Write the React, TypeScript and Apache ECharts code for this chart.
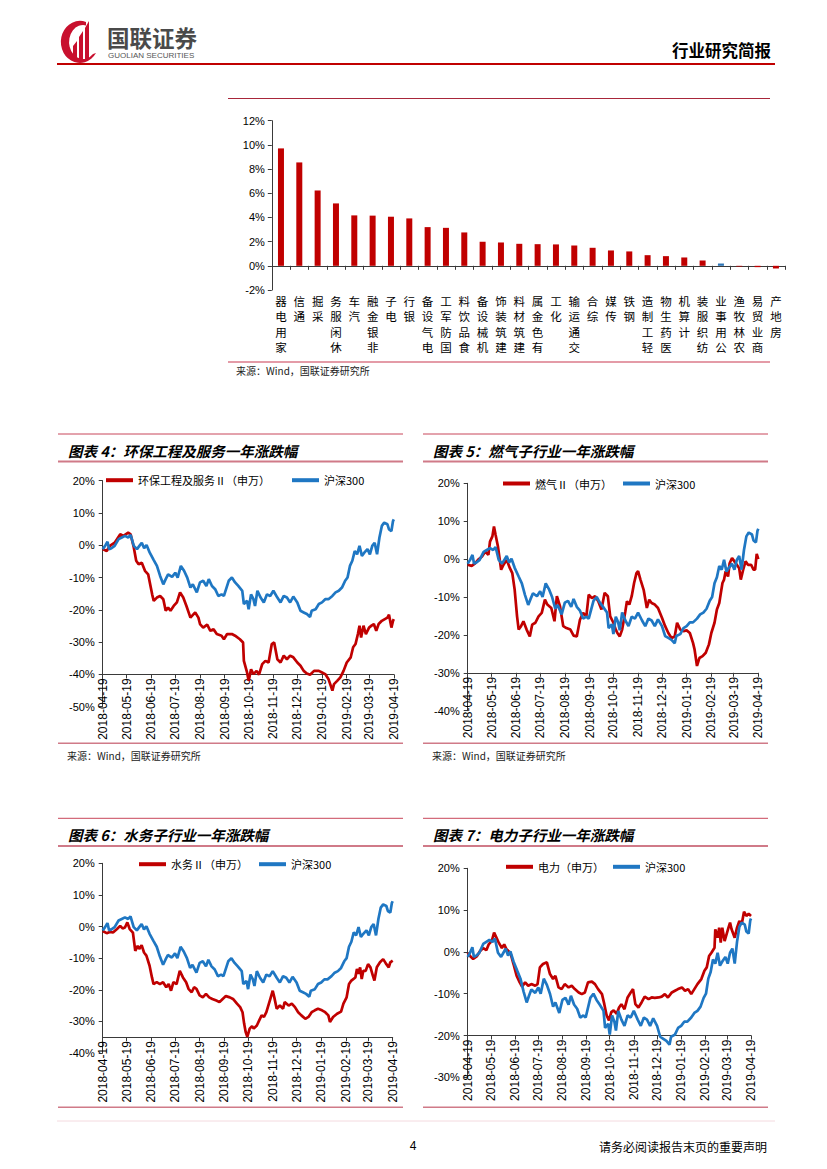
import React, { useEffect, useRef } from 'react';
import * as echarts from 'echarts';

const CJK = '"Noto Sans CJK SC", "Noto Sans", sans-serif';
const ARIAL = '"Liberation Sans", Arial, sans-serif';
const RED = '#C00000';
const BLUE = '#1F77C3';
const BAR_BLUE = '#2E75B6';

// ---------- top bar chart: industry returns (%) ----------
const industryCategories = [
  '家用电器', '通信', '采掘', '休闲服务', '汽车', '非银金融', '电子', '银行', '电气设备', '国防军工',
  '食品饮料', '机械设备', '建筑装饰', '建筑材料', '有色金属', '化工', '交通运输', '综合', '传媒', '钢铁',
  '轻工制造', '医药生物', '计算机', '纺织服装', '公用事业', '农林牧渔', '商业贸易', '房地产',
];
const industryReturns = [
  9.71, 8.55, 6.23, 5.16, 4.17, 4.15, 4.06, 3.92, 3.2, 3.14,
  2.76, 1.99, 1.93, 1.82, 1.79, 1.77, 1.68, 1.49, 1.27, 1.19,
  0.88, 0.8, 0.69, 0.44, 0.19, -0.06, -0.11, -0.22,
];
const highlightCategory = '公用事业';

// ---------- one-year return series: [days since 2018-04-19, return %] ----------
const hs300: [number, number][] = [
  [0, -1.2], [3, -0.2], [6, 1.1], [8, -1.2], [11, -0.9], [15, -0.2], [20, 1.9], [24, 2.4], [28, 2.9], [32, 2.4],
  [35, 3.2], [39, -0.2], [43, -1.2], [46, -0.2], [49, 0.8], [52, -0.9], [55, 0.1], [59, -2.3], [64, -4.6], [68, -6.4],
  [72, -9.5], [76, -12.1], [79, -10.5], [82, -9], [87, -9.8], [91, -8.5], [94, -10], [98, -6.4], [102, -7.9], [106, -10],
  [110, -13.1], [113, -12.1], [118, -14.6], [122, -11.5], [126, -11], [130, -12.6], [133, -10.5], [137, -12.6], [141, -13.6], [145, -15.7],
  [149, -15.2], [152, -15.7], [158, -11], [162, -10], [166, -11.5], [170, -12.6], [175, -14.1], [177, -18.2], [181, -17.2], [183, -19.8],
  [186, -15.2], [189, -16.7], [191, -18.8], [194, -14.1], [198, -16.2], [202, -17.7], [206, -15.2], [210, -15.7], [214, -14.1], [219, -16.2],
  [223, -17.7], [227, -15.7], [231, -16.2], [235, -17.7], [239, -15.9], [244, -17.7], [248, -20.3], [252, -20.8], [256, -21.3], [260, -22.2],
  [262, -20.3], [267, -19.8], [271, -18.2], [275, -17.7], [279, -16.7], [283, -16.7], [288, -15.7], [292, -14.6], [296, -14.1], [300, -13.1],
  [304, -11], [307, -10], [310, -6.4], [313, -4.8], [316, -1.8], [319, -2.8], [322, -0.2], [325, -3.3], [328, -2.3], [332, -1.2],
  [335, -2.8], [338, -0.2], [341, 0.8], [344, -2.8], [347, 2.4], [350, 6.0], [353, 7.0], [357, 6.5], [359, 4.9], [362, 4.4],
  [364, 7.5], [365, 8.0],
];

const envProtection: [number, number][] = [
  [0, -1.2], [5, -1.8], [9, -0.2], [15, 0.8], [22, 3.4], [26, 2.9], [32, 3.9], [35, 3.4], [39, -0.7], [42, -4.8],
  [45, -5.9], [49, -5.4], [53, -7.9], [57, -9], [62, -15.2], [64, -17.2], [68, -16.2], [72, -15.7], [76, -16.7], [79, -20.3],
  [82, -19.3], [85, -20.3], [89, -18.8], [93, -17.7], [97, -14.6], [101, -16.2], [105, -18.8], [110, -22.4], [116, -20.8], [120, -22.4],
  [122, -24.4], [126, -25.5], [131, -24.6], [135, -26.5], [139, -26], [143, -27.5], [149, -28], [152, -29.1], [156, -27.5], [162, -27.5],
  [166, -28], [172, -29.1], [176, -30.1], [177, -35.8], [181, -39.4], [183, -42], [186, -38.4], [189, -39.9], [193, -38.9], [196, -40.1],
  [200, -36.8], [204, -35.8], [208, -36.3], [212, -30.6], [215, -30.1], [219, -35.3], [223, -36.3], [227, -34.2], [231, -35.3], [235, -34.2],
  [239, -34.7], [244, -36.3], [248, -37.3], [252, -38.9], [256, -39.7], [260, -40.1], [265, -38.9], [271, -38.9], [275, -39.4], [279, -39.9],
  [283, -41.4], [288, -45], [290, -43], [294, -42], [298, -40.9], [302, -38.9], [306, -36.3], [311, -34.7], [314, -31.6], [317, -30.6],
  [320, -27.5], [322, -24.9], [324, -28.6], [327, -24.9], [330, -27.5], [334, -25.5], [337, -24.9], [340, -24.4], [343, -26.5], [346, -24.4],
  [350, -23.4], [357, -22.4], [359, -21.5], [362, -25.5], [364, -23.4], [365, -22.9],
];

const gas: [number, number][] = [
  [0, -1.5], [5, -1.8], [9, -1.2], [13, -0.2], [18, 0.7], [22, 2.0], [26, 1.1], [28, 4.6], [31, 6.0], [33, 8.6],
  [35, 6.4], [38, 3.3], [42, -2.8], [45, -1.5], [49, -0.2], [53, -2.4], [56, -3.7], [59, -8.1], [62, -15.1], [64, -18.6],
  [67, -17.7], [70, -16.4], [74, -18.6], [78, -20.4], [81, -17.3], [85, -16.8], [89, -15.1], [93, -14.2], [97, -10.7], [100, -12],
  [105, -12.9], [109, -16.4], [112, -9.8], [116, -12.5], [120, -17.7], [124, -18.2], [129, -18.6], [133, -20.2], [137, -20.4], [141, -16],
  [145, -14.2], [149, -15.1], [152, -9.4], [156, -10.3], [160, -9.8], [164, -11.1], [168, -13.3], [172, -8.9], [176, -9.8], [179, -15.1],
  [183, -16.8], [186, -18.6], [188, -19.5], [191, -20.4], [194, -18.6], [198, -13.8], [200, -11.1], [203, -12], [206, -9.8], [209, -6.3],
  [212, -3.7], [214, -3.2], [217, -5.4], [221, -8.1], [225, -12.9], [228, -10.7], [231, -11.6], [235, -12], [239, -12.9], [244, -15.5],
  [248, -17.7], [252, -19.5], [256, -20.8], [260, -20.4], [263, -16.8], [267, -18.6], [271, -19], [275, -18.8], [279, -19.5], [283, -22.1],
  [285, -23.9], [288, -28.2], [291, -26.1], [295, -25.6], [299, -24.7], [303, -22.5], [306, -19.5], [310, -16.8], [313, -13.3], [316, -11.6],
  [318, -8.9], [320, -6.3], [322, -5.4], [324, -3.2], [327, -4.6], [329, -1.1], [332, 0.3], [335, -0.6], [338, -1.5], [341, -2.4],
  [343, -5.4], [346, -2.8], [349, -0.6], [352, -1.5], [356, -1.5], [359, -2.8], [361, -2.8], [363, 1.4], [365, 0],
];

const water: [number, number][] = [
  [0, -1.4], [5, -2.1], [9, -1.7], [13, -1.9], [18, -0.8], [22, 0.2], [25, -0.6], [28, -0.3], [31, 1.3], [34, -0.8],
  [38, -1.9], [41, -7.7], [44, -6.1], [46, -7.1], [49, -5.9], [52, -8.2], [55, -9.2], [59, -12.4], [62, -16.1], [64, -18.2],
  [68, -17.6], [72, -18.2], [76, -17.6], [80, -19.2], [83, -18.2], [86, -20.3], [89, -17.6], [93, -18.2], [97, -14], [101, -16.1],
  [105, -17.6], [108, -19.7], [112, -20.8], [115, -19.2], [118, -19.7], [122, -21.8], [126, -22.4], [130, -21.3], [134, -22.4], [138, -22.9],
  [143, -23.4], [147, -23.9], [151, -22.9], [155, -22], [160, -22.4], [164, -22.9], [169, -24.4], [173, -25.5], [176, -27.1], [178, -30.7],
  [180, -33.4], [182, -34.9], [185, -32.3], [188, -31.5], [190, -32.3], [194, -31.3], [197, -29.7], [200, -28.1], [203, -28.6], [206, -27.1],
  [211, -22.9], [214, -20.3], [216, -22.4], [219, -26], [223, -25], [227, -26], [229, -23.9], [234, -25], [238, -24.4], [242, -25.5],
  [246, -27.1], [250, -28.1], [255, -29.2], [259, -28.6], [263, -27.1], [267, -26.5], [271, -26], [276, -26.5], [280, -27.1], [284, -28.1],
  [286, -30.2], [290, -28.6], [295, -27.6], [300, -26.9], [303, -24.4], [307, -22.4], [310, -18.2], [313, -17.1], [318, -16.1], [320, -13.4],
  [322, -15], [324, -12.9], [326, -16.6], [328, -14], [331, -14], [334, -11.9], [337, -12.9], [340, -15.5], [342, -17.1], [345, -12.9],
  [349, -11.3], [353, -10.3], [355, -11.1], [357, -11.9], [360, -12.9], [362, -11.3], [365, -10.8],
];

const power: [number, number][] = [
  [0, -0.2], [3, -1], [7, -1.7], [12, -1], [16, 0.2], [20, 0.9], [24, 0.4], [27, 1.8], [31, 2.6], [34, 4.6],
  [37, 3.4], [40, 2.2], [44, 0.9], [47, 1.8], [50, 0.6], [55, -0.2], [59, -2.9], [63, -5.7], [67, -7.3], [70, -8.3],
  [74, -7.3], [78, -8.1], [82, -7.7], [87, -8.1], [90, -7.7], [93, -3.7], [97, -2.9], [102, -2.5], [106, -5.3], [110, -6.5],
  [113, -5.7], [117, -8.5], [121, -8.9], [125, -7.7], [130, -8.5], [134, -8.1], [138, -8.9], [143, -9.7], [147, -10.1], [151, -9.7],
  [155, -7.3], [160, -7.1], [164, -7.7], [168, -8.9], [173, -10.1], [176, -12.5], [179, -15.2], [182, -16.4], [185, -14.4], [188, -14],
  [192, -14.8], [195, -13.3], [198, -12.5], [202, -13.7], [206, -10.9], [210, -9.7], [213, -8.9], [216, -12.5], [220, -13.3], [224, -12.1],
  [228, -10.7], [233, -11.3], [237, -10.9], [241, -11], [246, -10.9], [250, -10.7], [254, -10.1], [258, -10.9], [263, -9.7], [267, -9.3],
  [271, -8.9], [276, -8.5], [280, -9.3], [284, -8.9], [288, -10.1], [292, -8.9], [296, -7.7], [301, -6.5], [305, -4.5], [308, -3.7],
  [311, -1], [314, -0.2], [318, 1], [319, 5.4], [322, 3.4], [324, 5.8], [326, 2.2], [328, 5.8], [331, 2.6], [336, 5.8],
  [338, 7], [340, 5.4], [344, 3.4], [347, 5.8], [350, 7.4], [353, 6.6], [356, 9.6], [359, 8.6], [362, 9.1], [365, 8.6],
];

// ---------- date helpers ----------
const START = Date.UTC(2018, 3, 19);
const DAY = 86400000;
const monthTickDays = Array.from({ length: 13 }, (_, m) =>
  Math.round((Date.UTC(2018, 3 + m, 19) - START) / DAY)
);
const pad = (n: number) => String(n).padStart(2, '0');
const dayLabel = (v: number) => {
  const d = new Date(START + Math.round(v) * DAY);
  return `${d.getUTCFullYear()}-${pad(d.getUTCMonth() + 1)}-${pad(d.getUTCDate())}`;
};

// ---------- logo shapes ----------
const LOGO_RING = 'M26 2 A19 21 0 1 0 36 33 L33 34 A14 17 0 1 1 26 5.4 Z';
const LOGO_BARS =
  'M13 40 L13 26 L17 21 L17 40 Z M19 40 L19 17 L23 11 L23 40 Z M25 40 L25 8 L29 1 L29 40 Z';
echarts.graphic.registerShape('glRing', echarts.graphic.extendPath(LOGO_RING, {}) as any);
echarts.graphic.registerShape('glBars', echarts.graphic.extendPath(LOGO_BARS, {}) as any);

// ---------- panel layout ----------
const panels = [
  {
    title: '图表 4：环保工程及服务一年涨跌幅', name: '环保工程及服务Ⅱ（申万）', data: envProtection,
    yMin: -50, yMax: 20, cross: -40,
    grid: { left: 102.7, top: 480.7, width: 291.1, height: 226 },
    legendLeft: 106, legendY: 481.7, legendGap: 22,
    boxX: 58, boxTop: 434, boxMid: 461.5, boxBottom: 743.3, source: true,
  },
  {
    title: '图表 5：燃气子行业一年涨跌幅', name: '燃气Ⅱ（申万）', data: gas,
    yMin: -40, yMax: 20, cross: -30,
    grid: { left: 467.7, top: 483.3, width: 290.6, height: 227.4 },
    legendLeft: 503, legendY: 485, legendGap: 11,
    boxX: 423, boxTop: 434, boxMid: 461.5, boxBottom: 743.3, source: true,
  },
  {
    title: '图表 6：水务子行业一年涨跌幅', name: '水务Ⅱ（申万）', data: water,
    yMin: -40, yMax: 20, cross: -35,
    grid: { left: 102.7, top: 863.3, width: 290, height: 189.7 },
    legendLeft: 139, legendY: 865.7, legendGap: 11,
    boxX: 58, boxTop: 818.3, boxMid: 846, boxBottom: 1107.3, source: false,
  },
  {
    title: '图表 7：电力子行业一年涨跌幅', name: '电力（申万）', data: power,
    yMin: -30, yMax: 20, cross: -20,
    grid: { left: 467.7, top: 868.3, width: 283.3, height: 209 },
    legendLeft: 506, legendY: 868.3, legendGap: 9,
    boxX: 423, boxTop: 818.3, boxMid: 846, boxBottom: 1107.3, source: false,
  },
];

const AXIS_COLOR = '#3a3a3a';
const SOURCE_TEXT = '来源：Wind，国联证券研究所';

function txt(text: string, x: number, y: number, opts: any = {}) {
  const align = opts.align || 'left';
  const vAlign = opts.vAlign || 'middle';
  return {
    type: 'text',
    x,
    y,
    silent: true,
    style: {
      text,
      fill: opts.fill || '#000',
      fontSize: opts.size || 12,
      fontFamily: opts.family || CJK,
      fontWeight: opts.weight || 'normal',
      fontStyle: opts.italic ? 'italic' : 'normal',
      textAlign: align,
      align,
      textVerticalAlign: vAlign,
      verticalAlign: vAlign,
    },
  };
}
function hline(x1: number, x2: number, y: number, stroke: string, lineWidth: number) {
  return { type: 'line', silent: true, shape: { x1, y1: y, x2, y2: y }, style: { stroke, lineWidth } };
}

function buildOption() {
  const grids: any[] = [
    { left: 271.8, top: 120.7, width: 513.3, height: 169.3, containLabel: false, outerBoundsMode: 'none' },
    ...panels.map((p) => ({ ...p.grid, containLabel: false, outerBoundsMode: 'none' })),
  ];

  const xAxes: any[] = [
    {
      gridIndex: 0, type: 'category', data: industryCategories, position: 'bottom',
      axisLine: { show: false, onZero: false }, axisTick: { show: false }, splitLine: { show: false },
      axisLabel: {
        interval: 0, margin: 3, color: '#000', fontFamily: CJK, fontSize: 11.5, lineHeight: 15.5,
        formatter: (v: string) => v.split('').reverse().join('\n'),
      },
    },
    {
      gridIndex: 0, type: 'category', data: industryCategories, position: 'bottom',
      axisLine: { show: true, onZero: true, onZeroAxisIndex: 0, lineStyle: { color: AXIS_COLOR, width: 1 } },
      axisTick: { show: true, length: 4, interval: 0, lineStyle: { color: AXIS_COLOR } },
      axisLabel: { show: false }, splitLine: { show: false },
    },
    ...panels.map((p, i) => ({
      gridIndex: i + 1, type: 'value', min: 0, max: 365, position: 'bottom',
      offset: -((p.cross - p.yMin) / (p.yMax - p.yMin)) * p.grid.height,
      axisLine: { show: true, onZero: false, lineStyle: { color: AXIS_COLOR, width: 1 } },
      axisTick: { show: true, length: 4, customValues: monthTickDays, lineStyle: { color: AXIS_COLOR } },
      axisLabel: {
        customValues: monthTickDays, formatter: dayLabel, rotate: 90, margin: 4,
        fontSize: 12, fontFamily: ARIAL, color: '#000',
      },
      splitLine: { show: false },
    })),
  ];

  const yAxes: any[] = [
    {
      gridIndex: 0, type: 'value', min: -2, max: 12, interval: 2,
      axisLine: { show: true, onZero: false, lineStyle: { color: AXIS_COLOR } },
      axisTick: { show: true, length: 4, lineStyle: { color: AXIS_COLOR } },
      axisLabel: { formatter: (v: number) => `${v}%`, fontSize: 11, fontFamily: ARIAL, color: '#000', margin: 7 },
      splitLine: { show: false },
    },
    ...panels.map((p, i) => ({
      gridIndex: i + 1, type: 'value', min: p.yMin, max: p.yMax, interval: 10,
      axisLine: { show: true, onZero: false, lineStyle: { color: AXIS_COLOR } },
      axisTick: { show: true, length: 4, lineStyle: { color: AXIS_COLOR } },
      axisLabel: { formatter: (v: number) => `${v}%`, fontSize: 11, fontFamily: ARIAL, color: '#000', margin: 8 },
      splitLine: { show: false },
    })),
  ];

  const series: any[] = [
    {
      type: 'bar', xAxisIndex: 0, yAxisIndex: 0, barWidth: 6, silent: true,
      data: industryReturns.map((v, i) => ({
        value: v,
        itemStyle: { color: industryCategories[i] === highlightCategory ? BAR_BLUE : RED },
      })),
    },
  ];
  panels.forEach((p, i) => {
    series.push({
      type: 'line', name: p.name, xAxisIndex: i + 2, yAxisIndex: i + 1, data: p.data,
      showSymbol: false, symbol: 'none', silent: true,
      lineStyle: { width: 2.7, color: RED }, itemStyle: { color: RED },
    });
    series.push({
      type: 'line', name: '沪深300', xAxisIndex: i + 2, yAxisIndex: i + 1, data: hs300,
      showSymbol: false, symbol: 'none', silent: true,
      lineStyle: { width: 2.7, color: BLUE }, itemStyle: { color: BLUE },
    });
  });

  const legends = panels.map((p) => ({
    data: [p.name, '沪深300'],
    left: p.legendLeft, top: p.legendY - 7, padding: 0,
    orient: 'horizontal', icon: 'rect', itemWidth: 27, itemHeight: 4, itemGap: p.legendGap,
    selectedMode: false,
    textStyle: { fontFamily: CJK, fontSize: 11, color: '#000' },
  }));

  const graphics: any[] = [
    // header
    { type: 'glRing', x: 60, y: 20, silent: true, style: { fill: '#C8102E' } },
    { type: 'glBars', x: 60, y: 20, silent: true, style: { fill: '#C8102E' } },
    txt('国联证券', 107, 37, { size: 22.5, weight: 'bold', fill: '#4A4A4A' }),
    txt('GUOLIAN SECURITIES', 108, 55.5, { size: 8, family: ARIAL, fill: '#555' }),
    txt('行业研究简报', 771, 50, { size: 16.5, weight: 'bold', align: 'right' }),
    hline(57, 775, 64, '#C00000', 2),
    // bar section
    hline(228, 770, 98.5, '#A8263A', 1),
    hline(228, 770, 362, '#DB7A8A', 1.5),
    txt(SOURCE_TEXT, 236, 370, { size: 10, fill: '#222' }),
    // footer
    hline(57, 775, 1121, '#F4DADF', 1),
    txt('4', 413, 1146, { size: 12, family: ARIAL, align: 'center' }),
    txt('请务必阅读报告末页的重要声明', 767, 1146, { size: 12, align: 'right' }),
  ];
  panels.forEach((p) => {
    graphics.push(hline(p.boxX, p.boxX + 345, p.boxTop, '#C8465A', 1));
    graphics.push(txt(p.title, p.boxX + 10, p.boxTop + 16, { size: 14.5, weight: 'bold', italic: true }));
    graphics.push(hline(p.boxX, p.boxX + 345, p.boxMid, '#D07A88', 2));
    graphics.push(hline(p.boxX, p.boxX + 345, p.boxBottom, '#D07A88', 1.5));
    if (p.source) graphics.push(txt(SOURCE_TEXT, p.boxX + 9, p.boxBottom + 12, { size: 10, fill: '#222' }));
  });

  return {
    animation: false,
    backgroundColor: '#ffffff',
    grid: grids,
    xAxis: xAxes,
    yAxis: yAxes,
    legend: legends,
    series,
    graphic: { elements: graphics },
  };
}

export default function App() {
  const ref = useRef<HTMLDivElement>(null);
  useEffect(() => {
    if (!ref.current) return;
    const chart = echarts.init(ref.current, undefined, { renderer: 'svg' });
    chart.setOption(buildOption() as any);
    return () => chart.dispose();
  }, []);
  return (
    <div
      ref={ref}
      style={{ position: 'absolute', left: 0, top: 0, width: 827, height: 1169, background: '#fff' }}
    />
  );
}
